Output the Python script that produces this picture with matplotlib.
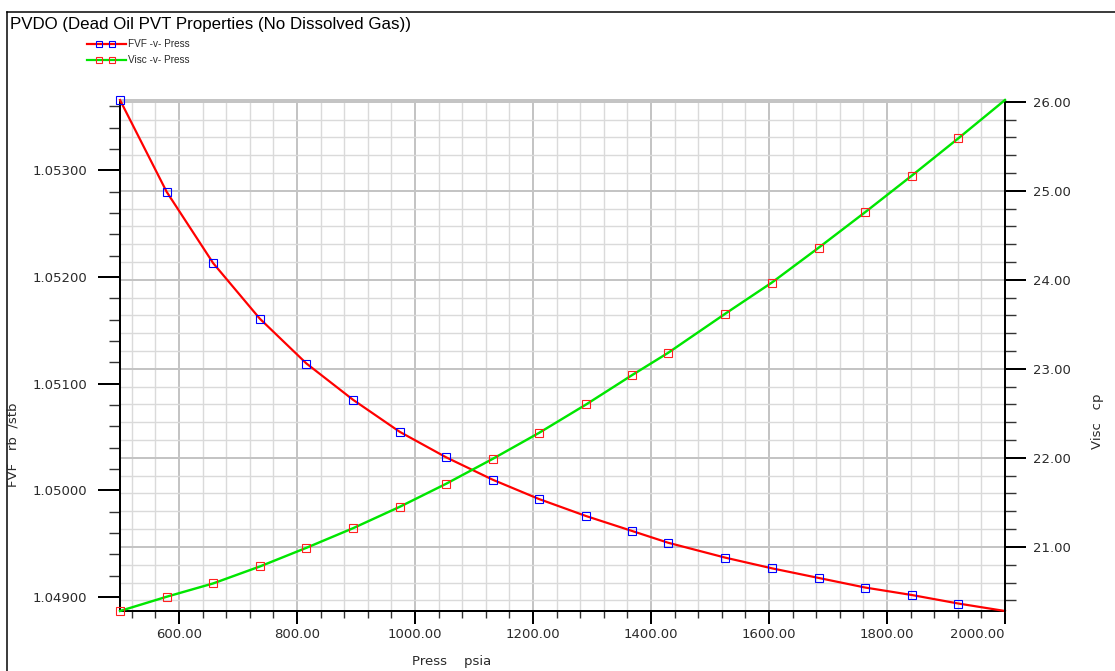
import matplotlib
matplotlib.use('Agg')
import matplotlib.pyplot as plt
from matplotlib.lines import Line2D
from matplotlib.ticker import MultipleLocator, FormatStrFormatter
from matplotlib.transforms import blended_transform_factory
import numpy as np

# PVDO table: pressure (psig), oil FVF (rb/stb) and dead oil viscosity (cp)
press = [500, 579, 658, 737, 816, 895, 974, 1053, 1132, 1210,
         1290, 1368, 1429, 1526, 1605, 1684, 1763, 1842, 1921, 2000]
fvf = [1.05366, 1.05280, 1.05213, 1.05161, 1.05119, 1.05085, 1.05055, 1.05031, 1.05010, 1.04992,
       1.04976, 1.04962, 1.04951, 1.04937, 1.04927, 1.04918, 1.04909, 1.04902, 1.04894, 1.04887]
visc = [20.28, 20.44, 20.59, 20.78, 20.99, 21.21, 21.45, 21.71, 21.99, 22.28,
        22.60, 22.93, 23.18, 23.62, 23.97, 24.36, 24.76, 25.17, 25.59, 26.02]

x_ticks = [600, 800, 1000, 1200, 1400, 1600, 1800, 2000]
x_tick_labels = ['600.00', '800.00', '1000.00', '1200.00', '1400.00', '1600.00', '1800.00', '2000.00']

title = 'PVDO (Dead Oil PVT Properties (No Dissolved Gas))'

W, H = 1115, 671
PT = 72 / 100  # pixels -> points
txt_col = '#2a2a2a'
minor_grid = '#dadada'
major_grid = '#c4c4c4'

plt.rcParams['font.family'] = 'DejaVu Sans'
plt.rcParams['font.size'] = 9.5

fig = plt.figure(figsize=(W / 100, H / 100), dpi=100)
fig.patch.set_facecolor('white')

# outer panel border (left and top edges only are inside the image)
fig.add_artist(Line2D([7 / W, 7 / W], [0, 1 - 12 / H], color='black', lw=1.5 * PT))
fig.add_artist(Line2D([7 / W, 1], [1 - 12 / H, 1 - 12 / H], color='black', lw=1.5 * PT))

ax1 = fig.add_axes([120 / W, (H - 611) / H, 885 / W, 511 / H])
ax2 = ax1.twinx()

ax1.set_xlim(500, 2000)
ax1.set_ylim(min(fvf), max(fvf))
ax2.set_ylim(min(visc), max(visc))

# grid: vertical lines from pressure ticks, horizontal lines from viscosity ticks
for xv in np.arange(520, 2000, 40):
    major = (xv % 200 == 0)
    ax1.axvline(xv, color=major_grid if major else minor_grid,
                lw=(2.0 if major else 1.4) * PT, zorder=0)
trans = blended_transform_factory(ax1.transAxes, ax2.transData)
for yv in np.arange(20.4, 26.01, 0.2):
    major = abs(yv - round(yv)) < 1e-6
    ax1.add_line(Line2D([0, 1], [yv, yv], transform=trans,
                        color=major_grid if major else minor_grid,
                        lw=(2.0 if major else 1.4) * PT, zorder=0))

ax1.plot(press, fvf, color='#ff0000', lw=2.2 * PT, zorder=3, clip_on=False,
         marker='s', markersize=5.2, markerfacecolor='none',
         markeredgecolor='#0000ff', markeredgewidth=1.1 * PT, markevery=list(range(len(press) - 1)))
ax2.plot(press, visc, color='#00e600', lw=2.4 * PT, zorder=3, clip_on=False,
         marker='s', markersize=5.2, markerfacecolor='none',
         markeredgecolor='#ff2020', markeredgewidth=1.1 * PT, markevery=list(range(len(press) - 1)))

# ticks
ax1.set_xticks(x_ticks)
ax1.set_xticklabels(x_tick_labels)
ax1.xaxis.set_minor_locator(MultipleLocator(40))
ax1.get_xticklabels()[-1].set_horizontalalignment('right')

ax1.yaxis.set_major_locator(MultipleLocator(0.001))
ax1.yaxis.set_minor_locator(MultipleLocator(0.0002))
ax1.yaxis.set_major_formatter(FormatStrFormatter('%.5f'))

ax2.yaxis.set_major_locator(MultipleLocator(1.0))
ax2.yaxis.set_minor_locator(MultipleLocator(0.2))
ax2.yaxis.set_major_formatter(FormatStrFormatter('%.2f'))

ax1.tick_params(axis='x', which='major', direction='out', length=13 * PT, width=2 * PT,
                color='black', labelcolor=txt_col, pad=3)
ax1.tick_params(axis='x', which='minor', direction='out', length=7 * PT, width=1.4 * PT, color='#333333')
ax1.tick_params(axis='y', which='major', direction='out', length=22 * PT, width=2 * PT,
                color='black', labelcolor=txt_col, pad=8)
ax1.tick_params(axis='y', which='minor', direction='out', length=11 * PT, width=1.4 * PT, color='#333333')
ax2.tick_params(axis='y', which='major', direction='out', length=21 * PT, width=2 * PT,
                color='black', labelcolor=txt_col, pad=5)
ax2.tick_params(axis='y', which='minor', direction='out', length=11 * PT, width=1.4 * PT, color='#333333')

for s in ['left', 'bottom']:
    ax1.spines[s].set_linewidth(2 * PT)
    ax1.spines[s].set_color('black')
ax1.spines['right'].set_visible(False)
ax1.spines['top'].set_color(major_grid)
ax1.spines['top'].set_linewidth(2 * PT)
for s in ['left', 'bottom', 'top']:
    ax2.spines[s].set_visible(False)
ax2.spines['right'].set_linewidth(2 * PT)
ax2.spines['right'].set_color('black')

# titles and axis names
fig.text(10 / W, 1 - 25 / H, title, ha='left', va='center', fontsize=12.2,
         family='Liberation Sans', color='black')
fig.text(412 / W, 1 - 662 / H, 'Press    psia', ha='left', va='center', color=txt_col)
fig.text(1098 / W, 1 - 421 / H, 'Visc   cp', ha='center', va='center', rotation=90, color=txt_col)
fig.text(13 / W, 1 - 445 / H, 'FVF   rb  /stb', ha='center', va='center', rotation=90, color=txt_col)

# legend drawn by hand at top left
leg = [('FVF -v- Press', '#ff0000', '#0000ff', 44), ('Visc -v- Press', '#00e600', '#ff2020', 60)]
for name, lc, mc, yp in leg:
    yy = 1 - yp / H
    fig.add_artist(Line2D([87 / W, 126 / W], [yy, yy], color=lc, lw=2.2 * PT))
    fig.add_artist(Line2D([99 / W, 112 / W], [yy, yy], ls='none', marker='s', markersize=5,
                          markerfacecolor='none', markeredgecolor=mc, markeredgewidth=1.1 * PT))
    fig.text(128 / W, yy, name, ha='left', va='center', fontsize=7.2,
             family='Liberation Sans', color=txt_col)

fig.savefig('out.png', dpi=100)
